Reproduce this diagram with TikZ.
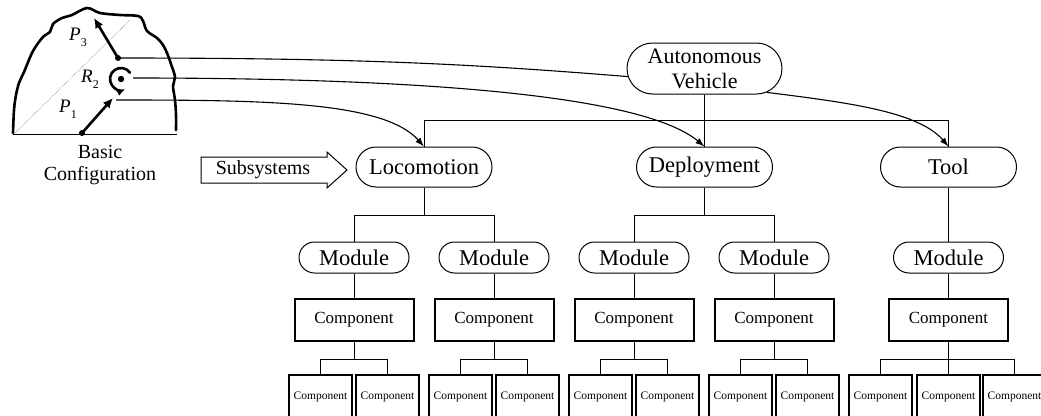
\documentclass[tikz,border=0pt]{standalone}
\usepackage{fontspec}
\setmainfont{Liberation Serif}
\usetikzlibrary{shapes.misc, arrows.meta, calc}
\newcommand\lowidx[1]{\raisebox{-0.32em}{\fontsize{12}{12}\selectfont #1}}
\begin{document}
\begin{tikzpicture}[x=1pt, y=-1pt,
  every node/.style={inner sep=0pt},
  pill/.style={draw, rounded rectangle, line width=1pt},
  topnode/.style={pill, minimum width=155pt, minimum height=51pt, align=center,
    font=\fontsize{22}{25}\selectfont},
  subnode/.style={pill, minimum width=136pt, minimum height=40pt,
    font=\fontsize{22.5}{25}\selectfont},
  modnode/.style={pill, minimum width=110pt, minimum height=31pt,
    font=\fontsize{22.5}{25}\selectfont},
  compnode/.style={draw, rectangle, line width=2pt, minimum width=119pt,
    minimum height=42pt, font=\fontsize{17}{19}\selectfont},
  partnode/.style={draw, rectangle, line width=2.2pt, minimum width=63pt,
    minimum height=44pt, font=\fontsize{11.5}{13}\selectfont},
  link/.style={line width=1pt},
  feed/.style={line width=1.1pt, -{Latex[length=9pt,width=6.5pt]}},
  bold/.style={line width=2.6pt, line cap=round, line join=round},
  boldarrow/.style={bold, -{Latex[length=10pt,width=9pt]}},
  lbl/.style={font=\fontsize{19}{21}\selectfont},
]
\useasboundingbox (0,0) rectangle (1041,415);
\clip (0,0) rectangle (1041,415);

% ---------- basic configuration sketch ----------
\draw[bold] plot[smooth, tension=0.55] coordinates {
  (13,133) (14,110) (16,95) (19,83) (24,72) (33,51) (43,37) (50,32)
  (53,24) (62,18) (72,15) (87,8) (100,13) (120,15) (138,16) (143,21)
  (147,31) (157,38) (163,45) (167,53) (171,64) (175,77) (173,86)
  (175,100) (176,115) (176,130)};
\draw[line width=0.9pt] (13,134) -- (177,134);
\draw[line width=0.6pt, densely dotted, gray] (15,133) -- (130,20);

\coordinate (p3tail) at (118,58);
\coordinate (p3tip) at (94,18);
\coordinate (p1tail) at (82,133);
\coordinate (p1tip) at (113,98);
\coordinate (p1out) at (116,100);
\coordinate (r2c) at (121,79);
\coordinate (r2out) at (133,78);

\draw[boldarrow] (p3tail) -- (p3tip);
\fill (p3tail) circle[radius=3pt];
\draw[boldarrow] (p1tail) -- (p1tip);
\fill (p1tail) circle[radius=3pt];
\fill (r2c) circle[radius=3.2pt];
\draw[bold, -{Latex[length=8pt,width=8pt]}] (r2c) ++(35:11pt)
  arc[start angle=35, end angle=292, radius=11pt];

\node[lbl] (lp3) at (78,37) {\textit{P}\lowidx{3}};
\node[lbl] (lr2) at (90,79) {\textit{R}\lowidx{2}};
\node[lbl] (lp1) at (68,109) {\textit{P}\lowidx{1}};
\node[align=center, font=\fontsize{20}{22}\selectfont] (basic) at (100,165)
  {Basic\\Configuration};

% ---------- subsystems arrow ----------
\draw[line width=1pt] (201,157) -- (327,157) -- (327,152) -- (347,170)
  -- (327,188) -- (327,183) -- (201,183) -- cycle;
\node[font=\fontsize{20}{22}\selectfont] (subs) at (263,170) {Subsystems};

% ---------- hierarchy ----------
\node[topnode] (av) at (704.5,68.5) {Autonomous\\Vehicle};
\node[subnode] (loco) at (424,167) {Locomotion};
\node[subnode] (dep) at (704.5,167) {Deployment};
\node[subnode] (tool) at (948.5,167) {Tool};

\node[modnode] (m1) at (354,257.5) {Module};
\node[modnode] (m2) at (494,257.5) {Module};
\node[modnode] (m3) at (634,257.5) {Module};
\node[modnode] (m4) at (774,257.5) {Module};
\node[modnode] (m5) at (948.5,257.5) {Module};

\node[compnode] (c1) at (354,320) {Component};
\node[compnode] (c2) at (494,320) {Component};
\node[compnode] (c3) at (634,320) {Component};
\node[compnode] (c4) at (774,320) {Component};
\node[compnode] (c5) at (948.5,320) {Component};

\node[partnode] (q1a) at (320.5,397) {Component};
\node[partnode] (q1b) at (387.5,397) {Component};
\node[partnode] (q2a) at (460.5,397) {Component};
\node[partnode] (q2b) at (527.5,397) {Component};
\node[partnode] (q3a) at (600.5,397) {Component};
\node[partnode] (q3b) at (667.5,397) {Component};
\node[partnode] (q4a) at (740.5,397) {Component};
\node[partnode] (q4b) at (807.5,397) {Component};
\node[partnode] (q5a) at (880.5,397) {Component};
\node[partnode] (q5b) at (948.5,397) {Component};
\node[partnode] (q5c) at (1014.5,397) {Component};

% tree connections
\draw[link] (av.south) -- ++(0,26) -| (loco.north);
\draw[link] (av.south) -- ++(0,26) -| (tool.north);
\draw[link] (av.south) -- (dep.north);

\draw[link] (loco.south) -- ++(0,28) -| (m1.north);
\draw[link] (loco.south) -- ++(0,28) -| (m2.north);
\draw[link] (dep.south) -- ++(0,28) -| (m3.north);
\draw[link] (dep.south) -- ++(0,28) -| (m4.north);
\draw[link] (tool.south) -- (m5.north);

\foreach \i in {1,...,5} {
  \draw[link] (m\i.south) -- (c\i.north);
}
\foreach \i in {1,...,4} {
  \draw[link] (c\i.south) -- ++(0,17) -| (q\i a.north);
  \draw[link] (c\i.south) -- ++(0,17) -| (q\i b.north);
}
\draw[link] (c5.south) -- ++(0,17) -| (q5a.north);
\draw[link] (c5.south) -- (q5b.north);
\draw[link] (c5.south) -- ++(0,17) -| (q5c.north);

% ---------- sketch-to-hierarchy links ----------
\draw[line width=1.1pt] (p3tail) .. controls +(250,0) and +(-150,-12) .. (av.186);
\draw[feed] (av.-21) .. controls +(80,10) and +(-30,-35) .. (tool.north);
\draw[feed] (r2out) .. controls +(300,0) and +(-60,-50) .. (dep.north);
\draw[feed] (p1out) .. controls +(150,0) and +(-40,-45) .. (loco.north);
\end{tikzpicture}
\end{document}
